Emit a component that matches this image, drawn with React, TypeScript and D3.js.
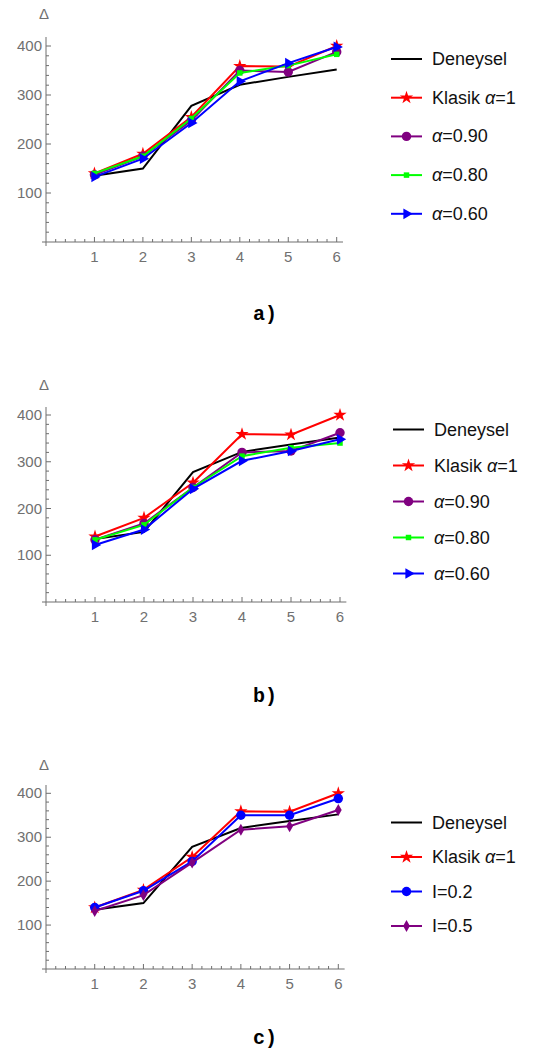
import React from 'react';
import * as d3 from 'd3';

// x positions shared by all panels
const steps = [1, 2, 3, 4, 5, 6];
const yTicks = [100, 200, 300, 400];

const deneysel = [135, 150, 278, 321, 337, 352];
const klasik = [140, 180, 255, 359, 358, 400];

// panel a
const a90 = [137, 175, 248, 350, 347, 388];
const a80 = [140, 175, 252, 345, 360, 383];
const a60 = [133, 170, 243, 328, 365, 398];

// panel b
const b90 = [133, 168, 245, 320, 323, 362];
const b80 = [133, 165, 245, 312, 330, 340];
const b60 = [122, 155, 242, 302, 323, 348];

// panel c
const cI02 = [140, 178, 245, 350, 350, 388];
const cI05 = [132, 168, 242, 317, 325, 362];

type Series = { name: string; values: number[]; color: string; marker: string };

const panels = [
  {
    label: 'a)', labelY: 320, x0: 46, x6: 336.7, y0: 242, y400: 46, top: 37, deltaY: 19,
    legendY: 59, legendGap: 38.7, legendX: 391,
    series: [
      { name: 'Deneysel', values: deneysel, color: '#000', marker: 'none' },
      { name: 'Klasik α=1', values: klasik, color: '#ff0000', marker: 'star' },
      { name: 'α=0.90', values: a90, color: '#800080', marker: 'circle' },
      { name: 'α=0.80', values: a80, color: '#00ff00', marker: 'square' },
      { name: 'α=0.60', values: a60, color: '#0000ff', marker: 'triangle' },
    ] as Series[],
  },
  {
    label: 'b)', labelY: 702, x0: 46, x6: 340, y0: 602, y400: 415, top: 407, deltaY: 390,
    legendY: 429.5, legendGap: 36, legendX: 393,
    series: [
      { name: 'Deneysel', values: deneysel, color: '#000', marker: 'none' },
      { name: 'Klasik α=1', values: klasik, color: '#ff0000', marker: 'star' },
      { name: 'α=0.90', values: b90, color: '#800080', marker: 'circle' },
      { name: 'α=0.80', values: b80, color: '#00ff00', marker: 'square' },
      { name: 'α=0.60', values: b60, color: '#0000ff', marker: 'triangle' },
    ] as Series[],
  },
  {
    label: 'c)', labelY: 1044, x0: 46, x6: 338.3, y0: 969, y400: 793.3, top: 785, deltaY: 770,
    legendY: 822.5, legendGap: 34.5, legendX: 391,
    series: [
      { name: 'Deneysel', values: deneysel, color: '#000', marker: 'none' },
      { name: 'Klasik α=1', values: klasik, color: '#ff0000', marker: 'star' },
      { name: 'I=0.2', values: cI02, color: '#0000ff', marker: 'circle' },
      { name: 'I=0.5', values: cI05, color: '#800080', marker: 'diamond' },
    ] as Series[],
  },
];

const markerPath = (m: string) => {
  if (m === 'star') return d3.symbol(d3.symbolStar, 55)();
  if (m === 'circle') return d3.symbol(d3.symbolCircle, 70)();
  if (m === 'square') return d3.symbol(d3.symbolSquare, 30)();
  if (m === 'triangle') return d3.symbol(d3.symbolTriangle, 50)();
  if (m === 'diamond') return d3.symbol(d3.symbolDiamond, 40)();
  return null;
};

const Marker = ({ m, x, y, color }: { m: string; x: number; y: number; color: string }) => {
  const p = markerPath(m);
  if (!p) return null;
  const rot = m === 'triangle' ? ' rotate(90)' : '';
  return <path d={p} transform={`translate(${x},${y})${rot}`} fill={color} />;
};

const axisColor = '#6e6e6e';
const labelColor = '#707070';
const sans = 'Liberation Sans, Arial, sans-serif';

const Panel = ({ p }: { p: typeof panels[0] }) => {
  const x = d3.scaleLinear().domain([0, 6]).range([p.x0, p.x6]);
  const y = d3.scaleLinear().domain([0, 400]).range([p.y0, p.y400]);
  const xEnd = x(6.13);
  const yMax = y.invert(p.top);
  const line = d3.line<number>().x((_, i) => x(steps[i])).y(d => y(d));
  const xMinor = d3.range(0.2, 6.13, 0.2).filter(v => Math.abs(v - Math.round(v)) > 0.01);
  const yMinor = d3.range(20, yMax + 1, 20).filter(v => v % 100 !== 0);
  return (
    <g>
      {/* axes */}
      <line x1={p.x0 - 4} x2={xEnd} y1={p.y0} y2={p.y0} stroke={axisColor} strokeWidth={1} />
      <line x1={p.x0} x2={p.x0} y1={p.y0 + 4} y2={p.top} stroke={axisColor} strokeWidth={1} />
      {steps.map(v => (
        <g key={'xt' + v}>
          <line x1={x(v)} x2={x(v)} y1={p.y0} y2={p.y0 - 5} stroke={axisColor} />
          <text x={x(v)} y={p.y0 + 20} textAnchor="middle" fontSize={15} fill={labelColor}
            fontFamily={sans}>{v}</text>
        </g>
      ))}
      {xMinor.map(v => (
        <line key={'xm' + v} x1={x(v)} x2={x(v)} y1={p.y0} y2={p.y0 - 3} stroke={axisColor} />
      ))}
      {yTicks.map(v => (
        <g key={'yt' + v}>
          <line x1={p.x0} x2={p.x0 + 5} y1={y(v)} y2={y(v)} stroke={axisColor} />
          <text x={p.x0 - 4} y={y(v) + 5} textAnchor="end" fontSize={15} fill={labelColor}
            fontFamily={sans}>{v}</text>
        </g>
      ))}
      {yMinor.map(v => (
        <line key={'ym' + v} x1={p.x0} x2={p.x0 + 3} y1={y(v)} y2={y(v)} stroke={axisColor} />
      ))}
      <text x={p.x0 - 2} y={p.deltaY} textAnchor="middle" fontSize={15} fill={labelColor}
        fontFamily={sans}>Δ</text>

      {/* series */}
      {p.series.map(s => (
        <g key={s.name}>
          <path d={line(s.values) || ''} fill="none" stroke={s.color} strokeWidth={2} />
          {s.values.map((v, i) => (
            <Marker key={i} m={s.marker} x={x(steps[i])} y={y(v)} color={s.color} />
          ))}
        </g>
      ))}

      {/* legend */}
      {p.series.map((s, i) => {
        const ly = p.legendY + i * p.legendGap;
        return (
          <g key={'lg' + s.name}>
            <line x1={p.legendX} x2={p.legendX + 31} y1={ly} y2={ly} stroke={s.color} strokeWidth={2} />
            <Marker m={s.marker} x={p.legendX + 15.5} y={ly} color={s.color} />
            <text x={p.legendX + 41} y={ly + 6} fontSize={18} fill="#111"
              fontFamily={sans}>
              {s.name.split(/(α)/).map((t, k) =>
                t === 'α' ? <tspan key={k} fontStyle="italic">α</tspan> : <tspan key={k}>{t}</tspan>)}
            </text>
          </g>
        );
      })}

      <text x={265} y={p.labelY} textAnchor="middle" fontSize={20} fontWeight="bold" fill="#000"
        fontFamily="Liberation Mono, Courier New, monospace">{p.label}</text>
    </g>
  );
};

export default function App() {
  return (
    <svg width={534} height={1053} style={{ position: 'absolute', left: 0, top: 0, background: '#fff' }}>
      <rect width={534} height={1053} fill="#fff" />
      {panels.map(p => <Panel key={p.label} p={p} />)}
    </svg>
  );
}
